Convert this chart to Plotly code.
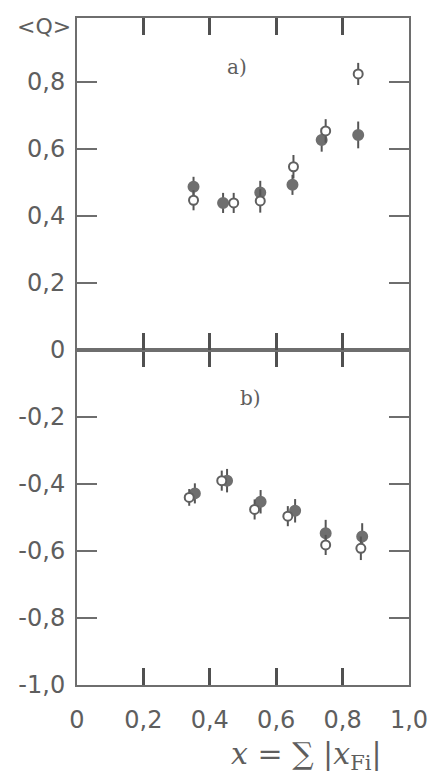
import plotly.graph_objects as go

# ---- data ----
# panel a) (upper)
xa_filled = [0.351, 0.440, 0.552, 0.649, 0.737, 0.847]
ya_filled = [0.487, 0.439, 0.470, 0.493, 0.627, 0.642]
ea_filled = [0.030, 0.030, 0.035, 0.030, 0.035, 0.040]
xa_open = [0.351, 0.472, 0.552, 0.652, 0.749, 0.847]
ya_open = [0.447, 0.439, 0.445, 0.547, 0.654, 0.824]
ea_open = [0.030, 0.030, 0.035, 0.035, 0.035, 0.033]

# panel b) (lower)
xb_filled = [0.355, 0.452, 0.553, 0.657, 0.749, 0.859]
yb_filled = [-0.428, -0.390, -0.453, -0.480, -0.547, -0.557]
eb_filled = [0.030, 0.035, 0.035, 0.035, 0.040, 0.040]
xb_open = [0.338, 0.436, 0.535, 0.635, 0.749, 0.855]
yb_open = [-0.440, -0.390, -0.476, -0.496, -0.582, -0.592]
eb_open = [0.025, 0.030, 0.030, 0.030, 0.030, 0.035]

x_tickvals = [0, 0.2, 0.4, 0.6, 0.8, 1.0]
x_ticktext = ["0", "0,2", "0,4", "0,6", "0,8", "1,0"]
ya_tickvals = [0, 0.2, 0.4, 0.6, 0.8]
ya_ticktext = ["0", "0,2", "0,4", "0,6", "0,8"]
yb_tickvals = [-0.2, -0.4, -0.6, -0.8, -1.0]
yb_ticktext = ["-0,2", "-0,4", "-0,6", "-0,8", "-1,0"]

# ---- styles ----
AX = "#6e6e6e"
XT = "#505050"
TXT = "#5e5e5e"
FILL = "#6f6f6f"
FONT = "DejaVu Sans"

fig = go.Figure()

def add(x, y, e, filled, xa, ya):
    fig.add_trace(go.Scatter(
        x=x, y=y, mode="markers", xaxis=xa, yaxis=ya, showlegend=False,
        error_y=dict(type="data", array=e, visible=True, color="#555555",
                     thickness=2, width=0),
        marker=dict(size=10 if filled else 9,
                    color=FILL if filled else "white",
                    line=dict(color=FILL if filled else "#606060", width=2)),
    ))

add(xa_filled, ya_filled, ea_filled, True, "x2", "y2")
add(xa_open, ya_open, ea_open, False, "x2", "y2")
add(xb_filled, yb_filled, eb_filled, True, "x", "y")
add(xb_open, yb_open, eb_open, False, "x", "y")

split = 335 / 667

common_x = dict(range=[0, 1], showline=True, linecolor=AX, linewidth=1.5,
                mirror="ticks", ticks="inside", ticklen=17, tickwidth=2.5,
                tickcolor=XT, tickmode="array", tickvals=x_tickvals,
                showgrid=False, zeroline=False)
common_y = dict(showline=True, linecolor=AX, linewidth=2, mirror="ticks",
                ticks="inside", ticklen=20, tickwidth=2, tickcolor=AX,
                showgrid=False, zeroline=False,
                tickfont=dict(family=FONT, size=24, color=TXT))

fig.update_layout(
    width=440, height=779,
    margin=dict(l=77, r=21, t=18, b=94),
    paper_bgcolor="white", plot_bgcolor="white",
    xaxis=dict(**common_x, anchor="y", ticktext=x_ticktext,
               tickfont=dict(family=FONT, size=24, color=TXT),
               ticklabelstandoff=12),
    yaxis=dict(**common_y, domain=[0, split], range=[-1.0, 0],
               tickvals=yb_tickvals, ticktext=yb_ticktext, anchor="x",
               ticklabelstandoff=5),
    xaxis2=dict(**common_x, anchor="y2", showticklabels=False),
    yaxis2=dict(**common_y, domain=[split, 1], range=[0, 0.991],
                tickvals=ya_tickvals, ticktext=ya_ticktext, anchor="x2",
                ticklabelstandoff=5),
    annotations=[
        dict(text="&lt;Q&gt;", xref="paper", yref="paper", x=-0.1, y=1.0,
             yshift=-8, xanchor="center", yanchor="middle", showarrow=False,
             font=dict(family=FONT, size=22, color=TXT)),
        dict(text="a)", xref="x2", yref="y2", x=0.482, y=0.845,
             showarrow=False,
             font=dict(family="DejaVu Serif", size=20, color=TXT)),
        dict(text="b)", xref="x", yref="y", x=0.523, y=-0.143,
             showarrow=False,
             font=dict(family="DejaVu Serif", size=20, color=TXT)),
        dict(text="<i>x</i> = ∑ |<i>x</i><sub>Fi</sub>|", xref="paper",
             yref="paper", x=0.69, y=-0.106, xanchor="center",
             yanchor="middle", showarrow=False,
             font=dict(family="DejaVu Serif", size=30, color=TXT)),
    ],
)

fig.write_html("out.html")
